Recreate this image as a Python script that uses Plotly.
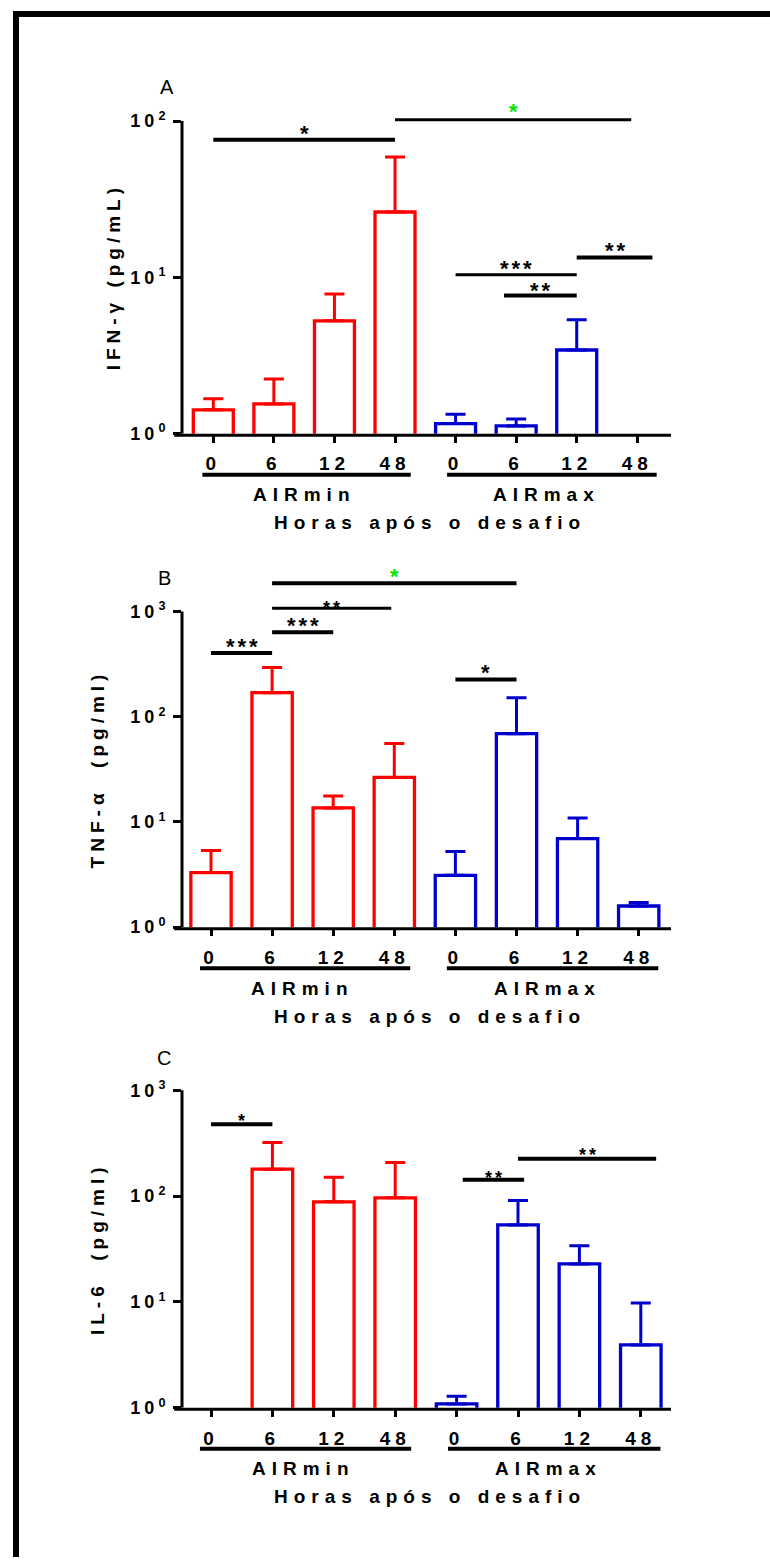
import math
import plotly.graph_objects as go

FIG_W, FIG_H = 770, 1567

# ---- data -------------------------------------------------------------
hour_labels = ["0", "6", "12", "48", "0", "6", "12", "48"]
strains = ["AIRmin", "AIRmax"]
x_title = "Horas após o desafio"

# group means and top of the SEM bar (pg/mL); None = not detected
ifn_mean = [1.42, 1.55, 5.27, 26.2, 1.16, 1.12, 3.43, None]
ifn_upper = [1.67, 2.24, 7.82, 59.0, 1.33, 1.24, 5.35, None]

tnf_mean = [3.30, 169.5, 13.6, 26.5, 3.11, 69.1, 6.96, 1.59]
tnf_upper = [5.36, 294.0, 17.7, 55.6, 5.25, 152.0, 10.9, 1.72]

il6_mean = [None, 180.0, 88.4, 96.4, 1.09, 53.5, 22.9, 3.93]
il6_upper = [None, 321.0, 150.7, 208.0, 1.29, 91.0, 34.0, 9.78]

# significance brackets: (from bar, to bar, height in pg/mL, stars, AIRmin vs AIRmax)
ifn_sig = [(0, 3, 76, "*", False), (3, 6.9, 102, "*", True), (6, 7.25, 13.4, "**", False),
           (4, 6, 10.4, "***", False), (4.8, 6, 7.66, "**", False)]
tnf_sig = [(1, 5, 1862, "*", True), (1, 2.95, 1074, "**", False), (1, 2, 638, "***", False),
           (0, 1, 404, "***", False), (4, 5, 226, "*", False)]
il6_sig = [(0, 1, 479, "*", False), (4.1, 5.1, 143, "**", False), (5, 7.25, 225, "**", False)]

# ---- styling / layout ------------------------------------------------
FONT = "Liberation Sans, Arial, sans-serif"
RED = "#FF0000"
BLUE = "#0000CC"
GREEN = "#00E600"
BLACK = "#000000"

AX_LEFT, AX_RIGHT = 182.0, 671.0

# star label style per bracket: (font size, gap above the line in px, line width)
panels = [
    dict(letter="A", title="IFN-γ (pg/mL)", mean=ifn_mean, upper=ifn_upper, sig=ifn_sig,
         base_px=435.0, decade_px=157.5, top_dec=2, y_max=2.13, x0_px=213.3, pitch=60.57,
         title_dx=-69, letter_xy=(167, 86),
         star_style=[(22, 11, 4), (22, 13, 3), (22, 12, 4), (22, 11, 3), (22, 10, 4)]),
    dict(letter="B", title="TNF-α  (pg/ml)", mean=tnf_mean, upper=tnf_upper, sig=tnf_sig,
         base_px=932.3, decade_px=106.0, top_dec=3, y_max=3.42, x0_px=211.0, pitch=61.1,
         title_dx=-85, letter_xy=(164, 580),
         star_style=[(22, 12, 4), (18, 4, 3), (22, 12, 4), (22, 12, 4), (22, 12, 4)]),
    dict(letter="C", title="IL-6  (pg/ml)", mean=il6_mean, upper=il6_upper, sig=il6_sig,
         base_px=1416.7, decade_px=106.67, top_dec=3, y_max=3.1, x0_px=211.0, pitch=61.4,
         title_dx=-85, letter_xy=(164, 1064),
         star_style=[(18, 7, 4), (18, 6, 4), (18, 8, 4)]),
]


def spaced(text, px):
    return f'<span style="letter-spacing:{px}px">{text}</span>'


fig = go.Figure()
shapes = []
annotations = []
layout = {}

positions = list(range(8))

for i, p in enumerate(panels):
    sfx = "" if i == 0 else str(i + 1)
    xa, ya = "x" + sfx, "y" + sfx

    # bars with upper error bars, one trace per strain
    for sl, col in ((slice(0, 4), RED), (slice(4, 8), BLUE)):
        xs = positions[sl]
        m = p["mean"][sl]
        u = p["upper"][sl]
        err = [None if v is None else uu - v for v, uu in zip(m, u)]
        fig.add_trace(go.Bar(
            x=xs, y=m, xaxis=xa, yaxis=ya, width=0.66,
            marker=dict(color="white", line=dict(color=col, width=3.3)),
            error_y=dict(type="data", symmetric=False, array=err,
                         arrayminus=[0] * len(xs), color=col, thickness=3, width=10),
            hoverinfo="skip", showlegend=False,
        ))

    top_px = p["base_px"] - p["y_max"] * p["decade_px"]
    layout["xaxis" + sfx] = dict(
        domain=[AX_LEFT / FIG_W, AX_RIGHT / FIG_W],
        range=[(AX_LEFT - p["x0_px"]) / p["pitch"], (AX_RIGHT - p["x0_px"]) / p["pitch"]],
        anchor=ya, showgrid=False, zeroline=False, showline=False,
        tickvals=positions, ticktext=[spaced(t, 5) for t in hour_labels],
        ticks="outside", ticklen=8, tickwidth=3, tickcolor=BLACK,
        tickfont=dict(family=FONT, size=19, color=BLACK, weight="bold"),
        ticklabelstandoff=5,
    )
    decs = list(range(p["top_dec"] + 1))
    layout["yaxis" + sfx] = dict(
        domain=[1 - p["base_px"] / FIG_H, 1 - top_px / FIG_H],
        type="log", range=[0, p["y_max"]], anchor=xa,
        showgrid=False, zeroline=False, showline=False,
        tickvals=[10 ** d for d in decs],
        ticktext=[spaced(f"10<sup>{d}</sup>", 4) for d in decs],
        ticks="outside", ticklen=8, tickwidth=3, tickcolor=BLACK,
        tickfont=dict(family=FONT, size=18, color=BLACK, weight="bold"),
    )

    # axis lines (shape y values are data values on the log axis)
    shapes.append(dict(type="line", xref=xa + " domain", yref=ya, x0=0, x1=0,
                       y0=1, y1=10 ** p["top_dec"], line=dict(color=BLACK, width=3)))
    shapes.append(dict(type="line", xref=xa + " domain", yref=ya + " domain",
                       x0=-0.016, x1=1, y0=-1.5, y1=-1.5, ysizemode="pixel", yanchor=0,
                       line=dict(color=BLACK, width=3)))

    # strain underlines and labels
    for (g0, g1), name, mid in (((-0.18, 3.26), strains[0], 1.5), ((3.86, 7.32), strains[1], 5.5)):
        shapes.append(dict(type="line", xref=xa, yref=ya + " domain", x0=g0, x1=g1,
                           y0=-41, y1=-41, ysizemode="pixel", yanchor=0,
                           line=dict(color=BLACK, width=4)))
        annotations.append(dict(xref=xa, yref=ya + " domain", x=mid, y=0, yshift=-61,
                                xanchor="center", yanchor="middle", showarrow=False,
                                text=spaced(name, 6),
                                font=dict(family=FONT, size=19, color=BLACK, weight="bold")))
    annotations.append(dict(xref=xa + " domain", yref=ya + " domain", x=0.5, y=0, yshift=-89,
                            xshift=3, xanchor="center", yanchor="middle", showarrow=False,
                            text=spaced(x_title, 6),
                            font=dict(family=FONT, size=19, color=BLACK, weight="bold")))

    # y title
    annotations.append(dict(xref=xa + " domain", yref=ya, x=0, y=p["top_dec"] / 2,
                            xshift=p["title_dx"], textangle=-90, showarrow=False,
                            xanchor="center", yanchor="middle",
                            text=spaced(p["title"], 5),
                            font=dict(family=FONT, size=19, color=BLACK, weight="bold")))

    # panel letter
    lx, ly = p["letter_xy"]
    annotations.append(dict(xref="paper", yref="paper", x=lx / FIG_W, y=1 - ly / FIG_H,
                            xanchor="center", yanchor="middle", showarrow=False, text=p["letter"],
                            font=dict(family=FONT, size=20, color=BLACK)))

    # significance brackets
    for (a, b, level, stars, across), (size, gap, lw) in zip(p["sig"], p["star_style"]):
        col = GREEN if across else BLACK
        shapes.append(dict(type="line", xref=xa, yref=ya, x0=a, x1=b, y0=level, y1=level,
                           line=dict(color=BLACK, width=lw)))
        annotations.append(dict(xref=xa, yref=ya, x=(a + b) / 2, y=math.log10(level), xshift=1.5,
                                yshift=gap - 0.23 * size,
                                xanchor="center", yanchor="middle", showarrow=False,
                                text=spaced(stars, 3),
                                font=dict(family=FONT, size=size, color=col, weight="bold")))

# frame
shapes.append(dict(type="rect", xref="paper", yref="paper", x0=13 / FIG_W, x1=1.0,
                   y0=1 - 15 / FIG_H, y1=1 - 9 / FIG_H, fillcolor=BLACK, line=dict(width=0)))
shapes.append(dict(type="rect", xref="paper", yref="paper", x0=13 / FIG_W, x1=19 / FIG_W,
                   y0=0, y1=1 - 9 / FIG_H, fillcolor=BLACK, line=dict(width=0)))

fig.update_layout(
    width=FIG_W, height=FIG_H, margin=dict(l=0, r=0, t=0, b=0),
    paper_bgcolor="white", plot_bgcolor="white", barmode="overlay",
    showlegend=False, shapes=shapes, annotations=annotations, **layout,
)

fig.write_html("out.html")
